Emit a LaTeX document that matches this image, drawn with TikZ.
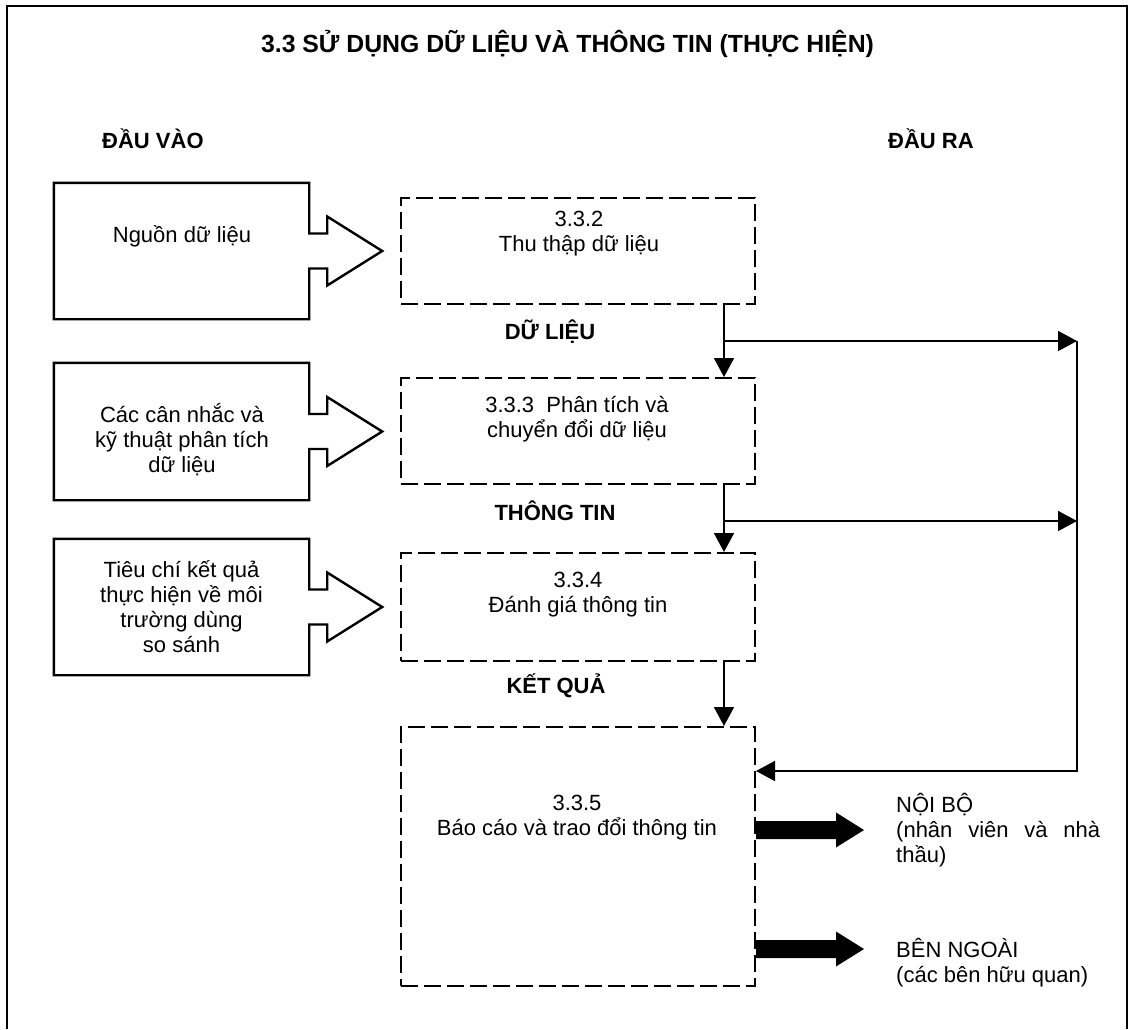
\documentclass[tikz,border=0pt]{standalone}
\usepackage{fontspec}
\setmainfont{Liberation Sans}
\usetikzlibrary{arrows.meta,calc}

\begin{document}
\begin{tikzpicture}[x=1pt, y=-1pt, line join=miter,
    every node/.style={inner sep=0pt, font=\fontsize{22}{25}\selectfont},
    head/.style={font=\fontsize{22}{25}\selectfont\bfseries},
    srcbox/.style={minimum width=255pt},
    stage/.style={draw, line width=2pt, dash pattern=on 17pt off 6pt, minimum width=354pt},
    flow/.style={line width=1.8pt, -{Triangle[length=19pt,width=20pt]}}]
  \useasboundingbox (0,0) rectangle (1133,1029);

  % --- khung và tiêu đề ---
  \draw[line width=2.8pt] (7,1029) -- (7,6) -- (1127,6) -- (1127,1029);
  \node[anchor=base, font=\fontsize{24.8}{30}\selectfont\bfseries] (title) at (567.5,52) {3.3 SỬ DỤNG DỮ LIỆU VÀ THÔNG TIN (THỰC HIỆN)};
  \node[head, anchor=base west] (in) at (102,148) {ĐẦU VÀO};
  \node[head, anchor=base west] (out) at (888,148) {ĐẦU RA};

  % --- đầu vào (hộp + mũi tên rỗng) ---
  \node[srcbox, minimum height=136pt] (src1) at (181.5,251) {};
  \node[srcbox, minimum height=137pt] (src2) at (181.5,431.5) {};
  \node[srcbox, minimum height=136pt] (src3) at (181.5,607) {};
  \foreach \s in {src1,src2,src3}
    \draw[line width=2.4pt] (\s.north west) -- (\s.north east) -- ([yshift=17.5pt]\s.east) -- ++(18,0) -- ++(0,-17) -- ++(55,34.5) -- ++(-55,34.5) -- ++(0,-17) -- ++(-18,0) -- (\s.south east) -- (\s.south west) -- cycle;
  \node[anchor=base] (src1t) at (182,242) {Nguồn dữ liệu};
  \node[align=center, anchor=base] (src2t) at (182,472.5) {Các cân nhắc và\\kỹ thuật phân tích\\dữ liệu};
  \node[align=center, anchor=base] (src3t) at (181.5,652.5) {Tiêu chí kết quả\\thực hiện về môi\\trường dùng\\so sánh};

  % --- các bước 3.3.2 - 3.3.5 ---
  \node[stage, minimum height=106pt] (d1) at (578,251) {};
  \node[stage, minimum height=106pt] (d2) at (578,431) {};
  \node[stage, minimum height=108pt] (d3) at (578,607) {};
  \node[stage, minimum height=259pt] (d4) at (578,856.5) {};
  \node[align=center, anchor=base] (d1t) at (579,251) {3.3.2\\Thu thập dữ liệu};
  \node[align=center, anchor=base] (d2t) at (577,437) {3.3.3\ \ Phân tích và\\chuyển đổi dữ liệu};
  \node[align=center, anchor=base] (d3t) at (578,612) {3.3.4\\Đánh giá thông tin};
  \node[align=center, anchor=base] (d4t) at (577,835) {3.3.5\\Báo cáo và trao đổi thông tin};

  % --- nhãn giữa các bước ---
  \node[head, anchor=base] (lbl1) at (550,339) {DỮ LIỆU};
  \node[head, anchor=base] (lbl2) at (555,520) {THÔNG TIN};
  \node[head, anchor=base] (lbl3) at (556,693) {KẾT QUẢ};

  % --- mũi tên dòng chảy ---
  \draw[flow] ([xshift=-32pt]d1.south east) -- ([xshift=-32pt]d2.north east);
  \draw[flow] ([xshift=-32pt]d2.south east) -- ([xshift=-32pt]d3.north east);
  \draw[flow] ([xshift=-32pt]d3.south east) -- ([xshift=-32pt]d4.north east);
  \coordinate (tap1) at (723,341);
  \coordinate (tap2) at (723,521);
  \coordinate (bus1) at (1077,341);
  \coordinate (bus2) at (1077,521);
  \coordinate (bus3) at (1077,771);
  \draw[flow] (tap1) -- (bus1);
  \draw[flow] (tap2) -- (bus2);
  \draw[flow] (bus1) -- (bus3) -- (d4.east |- bus3);

  % --- đầu ra ---
  \node[text width=204pt, align=justify, anchor=base west] (int) at (896,812) {NỘI BỘ\\(nhân viên và nhà thầu)};
  \node[align=left, anchor=base west] (ext) at (896,982) {BÊN NGOÀI\\(các bên hữu quan)};
  \coordinate (o1) at (835,830);
  \coordinate (o2) at (835,949);
  \foreach \o in {o1,o2}
    \fill ($(d4.east |- \o)+(0,-9)$) -- ++(80,0) -- ++(0,-8.5) -- ++(28,17.5) -- ++(-28,17.5) -- ++(0,-8.5) -- ++(-80,0) -- cycle;
\end{tikzpicture}
\end{document}
